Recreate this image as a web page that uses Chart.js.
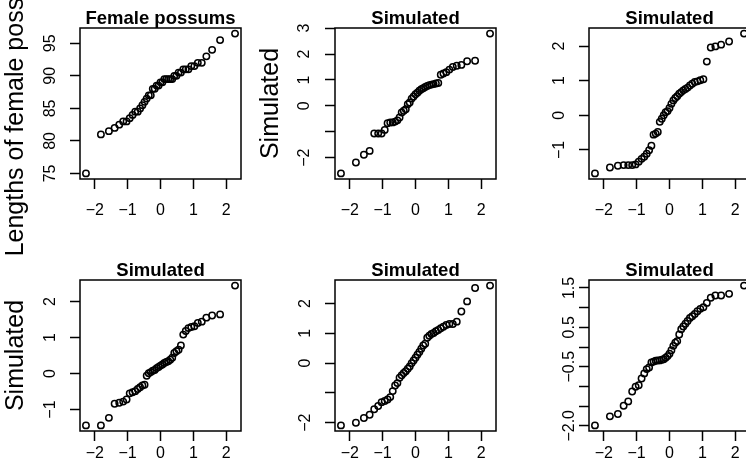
<!DOCTYPE html>
<html><head><meta charset="utf-8">
<script src="https://cdn.jsdelivr.net/npm/chart.js@4.4.1/dist/chart.umd.min.js"></script>
<style>
html,body{margin:0;padding:0;background:#fff;}
body{width:746px;height:471px;overflow:hidden;position:relative;}
canvas{position:absolute;}
</style></head><body>
<script>
// Theoretical normal quantiles for n = 43 (x values of every panel)
const theoQ = [-2.269,-1.814,-1.571,-1.396,-1.256,-1.136,-1.032,-0.937,-0.850,-0.769,-0.693,-0.621,-0.551,-0.485,-0.420,-0.357,-0.296,-0.235,-0.176,-0.117,-0.058,0,0.058,0.117,0.176,0.235,0.296,0.357,0.420,0.485,0.551,0.621,0.693,0.769,0.850,0.937,1.032,1.136,1.256,1.396,1.571,1.814,2.269];

// Sorted sample values, one list per panel
const femaleLengths = [75.0,81.0,81.5,82.0,82.5,83.0,83.0,83.5,84.0,84.5,84.5,85.0,85.5,86.0,86.5,87.0,87.0,88.0,88.0,88.5,88.5,89.0,89.0,89.5,89.5,89.5,89.5,89.5,90.0,90.0,90.5,90.5,91.0,91.0,91.0,91.5,91.5,92.0,92.0,93.0,94.0,95.5,96.5];
const sim1 = [-2.61,-2.19,-1.89,-1.74,-1.07,-1.07,-1.07,-0.93,-0.67,-0.64,-0.64,-0.61,-0.56,-0.45,-0.26,-0.19,-0.13,0.06,0.13,0.28,0.36,0.45,0.51,0.58,0.64,0.68,0.73,0.77,0.80,0.82,0.84,0.86,0.88,1.20,1.25,1.30,1.40,1.50,1.55,1.58,1.72,1.74,2.79];
const sim2 = [-1.68,-1.51,-1.46,-1.44,-1.44,-1.44,-1.42,-1.34,-1.26,-1.20,-1.11,-1.01,-0.88,-0.56,-0.53,-0.48,-0.19,-0.10,0.00,0.09,0.12,0.21,0.33,0.43,0.50,0.55,0.62,0.67,0.72,0.76,0.80,0.86,0.91,0.96,0.98,1.01,1.04,1.55,1.96,1.99,2.04,2.13,2.36];
const sim3 = [-1.44,-1.44,-1.23,-0.84,-0.81,-0.78,-0.72,-0.55,-0.52,-0.49,-0.43,-0.38,-0.33,-0.31,-0.06,0.01,0.04,0.08,0.10,0.15,0.18,0.22,0.25,0.29,0.32,0.34,0.38,0.44,0.57,0.62,0.66,0.78,1.08,1.18,1.26,1.29,1.31,1.40,1.44,1.55,1.61,1.64,2.44];
const sim4 = [-2.09,-2.00,-1.84,-1.73,-1.55,-1.44,-1.31,-1.27,-1.22,-1.14,-0.94,-0.75,-0.67,-0.49,-0.41,-0.33,-0.27,-0.19,-0.11,0.00,0.09,0.18,0.28,0.37,0.48,0.59,0.65,0.85,0.92,0.98,1.01,1.07,1.11,1.17,1.22,1.28,1.31,1.31,1.39,1.73,2.07,2.52,2.60];
const sim5 = [-1.99,-1.76,-1.70,-1.49,-1.38,-1.13,-1.01,-0.97,-0.80,-0.67,-0.56,-0.52,-0.39,-0.37,-0.35,-0.34,-0.34,-0.32,-0.31,-0.27,-0.23,-0.17,-0.08,0.03,0.11,0.15,0.32,0.45,0.52,0.59,0.66,0.74,0.78,0.84,0.91,0.97,1.01,1.12,1.25,1.31,1.31,1.35,1.56];

// Tick values and labels
const xTicks = [-2,-1,0,1,2];
const xTickLabels = ['\u22122','\u22121','0','1','2'];
const yTicks1 = [75,80,85,90,95];          const yLabels1 = ['75','80','85','90','95'];
const yTicks2 = [-2,-1,0,1,2,3];           const yLabels2 = ['\u22122','','0','1','2','3'];
const yTicks3 = [-1,0,1,2];                const yLabels3 = ['\u22121','0','1','2'];
const yTicks4 = [-1,0,1,2];                const yLabels4 = ['\u22121','0','1','2'];
const yTicks5 = [-2,-1,0,1,2];             const yLabels5 = ['\u22122','','0','1','2'];
const yTicks6 = [-2,-1.5,-1,-0.5,0,0.5,1,1.5]; const yLabels6 = ['\u22122.0','','','\u22120.5','','0.5','','1.5'];

const titles = ['Female possums','Simulated','Simulated','Simulated','Simulated','Simulated'];
const yTitles = ['Lengths of female possums','Simulated','','Simulated','',''];

const panels = [
  {y:femaleLengths, yt:yTicks1, yl:yLabels1},
  {y:sim1, yt:yTicks2, yl:yLabels2},
  {y:sim2, yt:yTicks3, yl:yLabels3},
  {y:sim3, yt:yTicks4, yl:yLabels4},
  {y:sim4, yt:yTicks5, yl:yLabels5},
  {y:sim5, yt:yTicks6, yl:yLabels6}
];

// Layout (pixels)
const boxLeft = [80,335,589], boxTop = [28,280], BW = 161, BH = 151;
const AXW = 80, TOPH = 28, XAXH = 90, PADR = 12;
const TICKFS = 16;
const yLabOff = [29,30,29,29,29,19];   // distance of rotated tick-label centre left of box
const xPad = [11.5,2.5];

const FAM = '"Liberation Sans", Arial, Helvetica, sans-serif';
const mctx = document.createElement('canvas').getContext('2d');
function measure(t, f){ mctx.font = f; return mctx.measureText(t).width; }
function rng(a){ const mn=Math.min(...a), mx=Math.max(...a), d=(mx-mn)*0.04; return [mn-d, mx+d]; }

const boxPlugin = {id:'box', afterDraw(chart){
  const {ctx, chartArea:a} = chart;
  ctx.save(); ctx.strokeStyle='#000'; ctx.lineWidth=1.5;
  ctx.strokeRect(a.left, a.top, a.right-a.left, a.bottom-a.top);
  ctx.restore();
}};

panels.forEach((p,k)=>{
  const col = k%3, row = Math.floor(k/3);
  const W = AXW+BW+PADR, H = TOPH+BH+XAXH;
  const cv = document.createElement('canvas');
  cv.width = W; cv.height = H;
  cv.style.width = W+'px'; cv.style.height = H+'px';
  cv.style.left = (boxLeft[col]-AXW)+'px'; cv.style.top = (boxTop[row]-TOPH)+'px';
  document.body.appendChild(cv);
  const widest = Math.max(...p.yl.map(s=>measure(s, TICKFS+'px '+FAM)));
  const [xmin,xmax] = rng(theoQ), [ymin,ymax] = rng(p.y);
  new Chart(cv, {
    type:'scatter',
    data:{datasets:[{data:theoQ.map((x,i)=>({x:x, y:p.y[i]})),
      pointRadius:3.2, pointHoverRadius:3.2, pointBorderWidth:1.5,
      pointBorderColor:'#000', pointBackgroundColor:'rgba(0,0,0,0)'}]},
    options:{
      responsive:false, animation:false, devicePixelRatio:1, events:[],
      layout:{padding:{left:0,right:PADR,top:0,bottom:0}},
      plugins:{
        legend:{display:false}, tooltip:{enabled:false},
        title:{display:true, text:titles[k], fullSize:false, color:'#000',
          font:{family:FAM, size:18.5, weight:'bold', lineHeight:1}, padding:{top:9.25,bottom:0.25}}
      },
      scales:{
        x:{type:'linear', min:xmin, max:xmax,
          afterFit:s=>{s.height = XAXH;},
          afterBuildTicks:s=>{s.ticks = xTicks.map(v=>({value:v}));},
          ticks:{callback:(v,i)=>xTickLabels[i], font:{family:FAM,size:TICKFS,lineHeight:1.2}, color:'#000',
            padding:xPad[row], maxRotation:0, minRotation:0, autoSkip:false},
          grid:{display:true, drawOnChartArea:false, drawTicks:true, tickLength:10, tickWidth:1.5, tickColor:'#000'},
          border:{display:false}},
        y:{type:'linear', min:ymin, max:ymax,
          afterFit:s=>{s.width = AXW;},
          afterBuildTicks:s=>{s.ticks = p.yt.map(v=>({value:v}));},
          ticks:{callback:(v,i)=>p.yl[i], font:{family:FAM,size:TICKFS,lineHeight:1.2}, color:'#000',
            padding:yLabOff[k]-10-widest/2, minRotation:90, maxRotation:90, crossAlign:'center', autoSkip:false},
          grid:{display:true, drawOnChartArea:false, drawTicks:true, tickLength:10, tickWidth:1.5, tickColor:'#000'},
          border:{display:false},
          title:{display:yTitles[k]!=='', text:yTitles[k], color:'#000',
            font:{family:FAM,size:25,lineHeight:1}, padding:{top:4,bottom:0}}}
      }
    },
    plugins:[boxPlugin]
  });
});
</script>
</body></html>
